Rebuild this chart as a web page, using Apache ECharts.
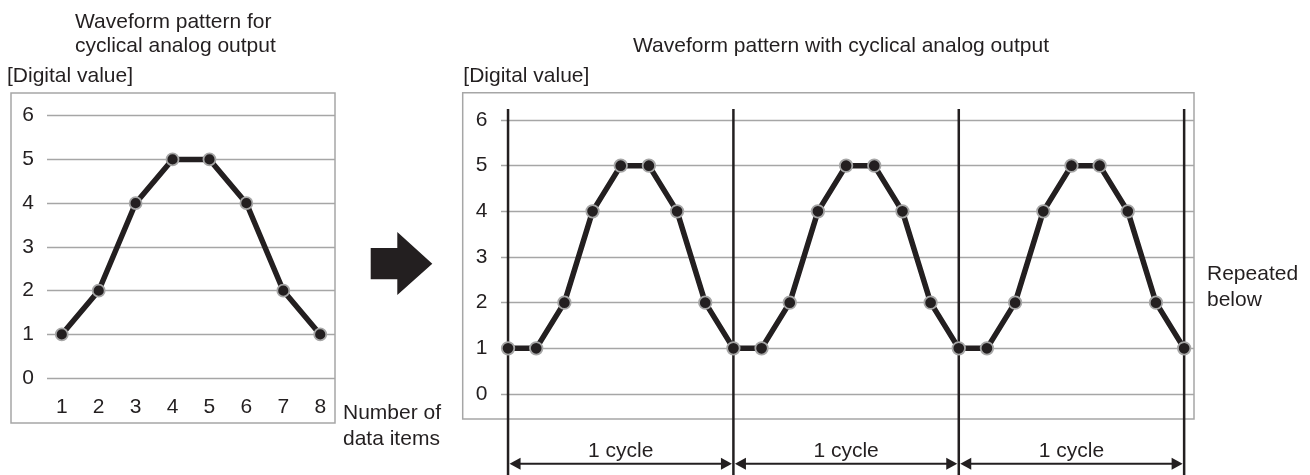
<!DOCTYPE html>
<html><head><meta charset="utf-8">
<script src="https://cdn.jsdelivr.net/npm/echarts@6/dist/echarts.min.js"></script>
<style>html,body{margin:0;padding:0;background:#fff}#c{width:1310px;height:475px}</style>
</head><body><div id="c"></div>
<script>
// ---- data ----
const patternX = [1, 2, 3, 4, 5, 6, 7, 8];
const patternValues = [1, 2, 4, 5, 5, 4, 2, 1];
const cyclicValues = [1, 1, 2, 4, 5, 5, 4, 2, 1, 1, 2, 4, 5, 5, 4, 2, 1, 1, 2, 4, 5, 5, 4, 2, 1];
const cycleBoundaries = [0, 8, 16, 24];
const cycles = [[0, 8], [8, 16], [16, 24]];
const cycleLabels = ['1 cycle', '1 cycle', '1 cycle'];
const leftTitle = ['Waveform pattern for', 'cyclical analog output'];
const rightTitle = 'Waveform pattern with cyclical analog output';
const yAxisName = '[Digital value]';
const xAxisName = ['Number of', 'data items'];
const repeatedText = ['Repeated', 'below'];

// ---- style ----
const INK = '#231f20';
const GRIDC = '#a6a6a6';
const FF = '"Liberation Sans", Arial, sans-serif';
const FS = 21;
const FONT = FS + 'px ' + FF;
const LINE_TOP = 6.24, LINE_BOTTOM = -1.8, ARROW_Y = -1.53;

const chart = echarts.init(document.getElementById('c'), null, {renderer: 'canvas'});

function txt(text, x, y, align) {
  return {type: 'text', x: x, y: y, style: {text: text, font: FONT, fill: INK, textAlign: align || 'left', textVerticalAlign: 'middle', verticalAlign: 'middle'}};
}

const yAxisCommon = {
  type: 'value', min: 0, max: 6, interval: 1,
  axisLine: {show: false}, axisTick: {show: false},
  splitLine: {show: true, lineStyle: {color: GRIDC, width: 1.3}},
  axisLabel: {fontSize: FS, fontFamily: FF, color: INK, margin: 13}
};

const markerStyle = {color: INK, borderColor: GRIDC, borderWidth: 1.8};

const option = {
  animation: false,
  backgroundColor: '#fff',
  grid: [
    {left: 47, width: 288, top: 115.7, height: 262.5},
    {left: 501, width: 693, top: 120, height: 274}
  ],
  xAxis: [
    {
      gridIndex: 0, type: 'value', min: 0.6, max: 8.4,
      axisLine: {show: false}, axisTick: {show: false}, splitLine: {show: false},
      axisLabel: {
        customValues: patternX, fontSize: FS, fontFamily: FF, color: INK, margin: 19,
        showMinLabel: true, showMaxLabel: true,
        formatter: function (v) { return Number.isInteger(v) ? String(v) : ''; }
      }
    },
    {
      gridIndex: 1, type: 'value', min: -0.25, max: 24.35, show: false
    }
  ],
  yAxis: [
    Object.assign({gridIndex: 0}, yAxisCommon),
    Object.assign({gridIndex: 1}, yAxisCommon, {axisLabel: {fontSize: FS, fontFamily: FF, color: INK, margin: 13.5}})
  ],
  graphic: [
    {type: 'rect', shape: {x: 11, y: 93, width: 324, height: 330}, style: {fill: 'none', stroke: GRIDC, lineWidth: 1.5}},
    {type: 'rect', shape: {x: 462.7, y: 92.7, width: 731.3, height: 326.3}, style: {fill: 'none', stroke: GRIDC, lineWidth: 1.5}},
    txt(leftTitle[0], 75, 22),
    txt(leftTitle[1], 75, 46.5),
    txt(yAxisName, 7, 76),
    txt(xAxisName[0], 343, 413),
    txt(xAxisName[1], 343, 439),
    txt(rightTitle, 841, 46.7, 'center'),
    txt(yAxisName, 463.3, 76.7),
    txt(repeatedText[0], 1207, 274),
    txt(repeatedText[1], 1207, 300),
    {type: 'polygon', shape: {points: [[370.7, 248], [397.3, 248], [397.3, 232], [432.3, 263.7], [397.3, 295], [397.3, 279.3], [370.7, 279.3]]}, style: {fill: INK}}
  ],
  series: [
    {
      type: 'line', xAxisIndex: 0, yAxisIndex: 0,
      data: patternX.map((x, i) => [x, patternValues[i]]),
      lineStyle: {color: INK, width: 5.5}, symbol: 'circle', symbolSize: 12,
      itemStyle: markerStyle, z: 3
    },
    {
      type: 'custom', xAxisIndex: 1, yAxisIndex: 1, z: 2,
      data: cycleBoundaries.map(b => [b, 0]),
      renderItem: function (params, api) {
        const a = api.coord([api.value(0), LINE_TOP]);
        const b = api.coord([api.value(0), LINE_BOTTOM]);
        return {type: 'line', shape: {x1: a[0], y1: a[1], x2: b[0], y2: b[1]}, style: {stroke: INK, lineWidth: 2.5}};
      }
    },
    {
      type: 'custom', xAxisIndex: 1, yAxisIndex: 1, z: 2,
      data: cycles,
      renderItem: function (params, api) {
        const s = api.coord([api.value(0), ARROW_Y]);
        const e = api.coord([api.value(1), ARROW_Y]);
        const y = s[1];
        const x0 = s[0] + 1.5, x1 = e[0] - 1.5;
        const hl = 11, hh = 6;
        return {type: 'group', children: [
          {type: 'line', shape: {x1: x0 + hl - 1, y1: y, x2: x1 - hl + 1, y2: y}, style: {stroke: INK, lineWidth: 2}},
          {type: 'polygon', shape: {points: [[x0, y], [x0 + hl, y - hh], [x0 + hl, y + hh]]}, style: {fill: INK}},
          {type: 'polygon', shape: {points: [[x1, y], [x1 - hl, y - hh], [x1 - hl, y + hh]]}, style: {fill: INK}},
          {type: 'text', style: {text: cycleLabels[params.dataIndex], x: (s[0] + e[0]) / 2, y: y - 12.5, textAlign: 'center', textVerticalAlign: 'middle', verticalAlign: 'middle', font: FONT, fill: INK}}
        ]};
      }
    },
    {
      type: 'line', xAxisIndex: 1, yAxisIndex: 1,
      data: cyclicValues.map((v, i) => [i, v]),
      lineStyle: {color: INK, width: 5.5}, symbol: 'circle', symbolSize: 12.5,
      itemStyle: markerStyle, z: 3
    }
  ]
};
chart.setOption(option);
</script>
</body></html>
